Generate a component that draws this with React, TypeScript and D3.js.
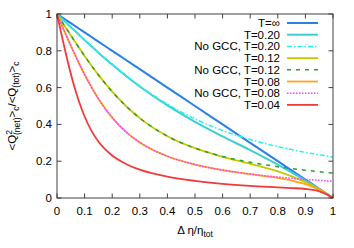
import * as d3 from 'd3';

// window fraction Δη/η_tot
const etaFrac = [0, 0.02, 0.04, 0.06, 0.08, 0.1, 0.125, 0.15, 0.2, 0.25, 0.3, 0.4, 0.5, 0.6, 0.7, 0.8, 0.85, 0.9, 0.95, 0.975, 1];

const tInf = [1, 0.98, 0.96, 0.94, 0.92, 0.9, 0.875, 0.85, 0.8, 0.75, 0.7, 0.6, 0.5, 0.4, 0.3, 0.2, 0.15, 0.1, 0.05, 0.025, 0];
const t020 = [1, 0.972, 0.943, 0.915, 0.887, 0.858, 0.825, 0.79, 0.725, 0.663, 0.606, 0.503, 0.414, 0.335, 0.26, 0.181, 0.139, 0.095, 0.049, 0.025, 0];
const t020NoGcc = [1, 0.972, 0.943, 0.915, 0.887, 0.859, 0.825, 0.791, 0.727, 0.666, 0.609, 0.51, 0.43, 0.367, 0.318, 0.279, 0.263, 0.248, 0.235, 0.229, 0.223];
const t012 = [1, 0.953, 0.907, 0.861, 0.816, 0.772, 0.719, 0.669, 0.578, 0.5, 0.434, 0.336, 0.271, 0.224, 0.186, 0.145, 0.118, 0.086, 0.047, 0.024, 0];
const t012NoGcc = [1, 0.953, 0.907, 0.861, 0.816, 0.772, 0.719, 0.669, 0.578, 0.5, 0.434, 0.336, 0.271, 0.226, 0.194, 0.17, 0.16, 0.151, 0.143, 0.139, 0.136];
const t008 = [1, 0.93, 0.861, 0.795, 0.731, 0.671, 0.602, 0.539, 0.437, 0.359, 0.302, 0.227, 0.182, 0.152, 0.1295, 0.109, 0.095, 0.075, 0.044, 0.023, 0];
const t008NoGcc = [1, 0.93, 0.861, 0.795, 0.731, 0.671, 0.602, 0.539, 0.437, 0.359, 0.302, 0.227, 0.182, 0.152, 0.13, 0.114, 0.107, 0.101, 0.096, 0.093, 0.091];
const t004 = [1, 0.864, 0.735, 0.62, 0.523, 0.443, 0.365, 0.307, 0.231, 0.185, 0.154, 0.116, 0.093, 0.077, 0.066, 0.058, 0.054, 0.049, 0.036, 0.021, 0];

const xTickValues = [0, 0.1, 0.2, 0.3, 0.4, 0.5, 0.6, 0.7, 0.8, 0.9, 1];
const xTickLabels = ['0', '0.1', '0.2', '0.3', '0.4', '0.5', '0.6', '0.7', '0.8', '0.9', '1'];
const yTickValues = [0, 0.2, 0.4, 0.6, 0.8, 1];
const yTickLabels = ['0', '0.2', '0.4', '0.6', '0.8', '1'];

const series = [
  { label: 'T=\u221e', values: tInf, color: '#2a7fe8', width: 2, dash: '' },
  { label: 'T=0.20', values: t020, color: '#3ccfd2', width: 2, dash: '' },
  { label: 'No GCC, T=0.20', values: t020NoGcc, color: '#22f2f2', width: 1.5, dash: '5,2,1.5,2' },
  { label: 'T=0.12', values: t012, color: '#c8c800', width: 1.8, dash: '' },
  { label: 'No GCC, T=0.12', values: t012NoGcc, color: '#2f9e2f', width: 1.5, dash: '4,5' },
  { label: 'T=0.08', values: t008, color: '#ffa31a', width: 1.8, dash: '' },
  { label: 'No GCC, T=0.08', values: t008NoGcc, color: '#ff3cff', width: 1.5, dash: '1.5,1.5' },
  { label: 'T=0.04', values: t004, color: '#ef3b3b', width: 1.8, dash: '' },
];

const W = 354;
const H = 248;
const m = { left: 57, right: 21, top: 14, bottom: 50 };
const font = 'Liberation Sans, Arial, Helvetica, sans-serif';

export default function App() {
  const x = d3.scaleLinear().domain([0, 1]).range([m.left, W - m.right]);
  const y = d3.scaleLinear().domain([0, 1]).range([H - m.bottom, m.top]);
  const line = d3
    .line<number>()
    .x((_d, i) => x(etaFrac[i]))
    .y((d) => y(d))
    .curve(d3.curveMonotoneX);

  const x0 = x(0), x1 = x(1), y0 = y(0), y1 = y(1);
  const tick = 4.5;
  const legX = 280;
  const legY = 23;
  const legStep = 11.7;

  return (
    <svg width={W} height={H} style={{ position: 'absolute', left: 0, top: 0, background: '#fff' }} fontFamily={font}>
      {series.map((s) => (
        <path key={s.label} d={line(s.values) ?? ''} fill="none" stroke={s.color} strokeWidth={s.width} strokeDasharray={s.dash || undefined} />
      ))}

      <rect x={x0} y={y1} width={x1 - x0} height={y0 - y1} fill="none" stroke="#404040" strokeWidth={1} />
      {xTickValues.map((v, i) => (
        <g key={'x' + i}>
          <line x1={x(v)} x2={x(v)} y1={y0} y2={y0 - tick} stroke="#404040" />
          <line x1={x(v)} x2={x(v)} y1={y1} y2={y1 + tick} stroke="#404040" />
          <text x={x(v)} y={y0 + 17} textAnchor="middle" fontSize={11.5}>{xTickLabels[i]}</text>
        </g>
      ))}
      {yTickValues.map((v, i) => (
        <g key={'y' + i}>
          <line x1={x0} x2={x0 + tick} y1={y(v)} y2={y(v)} stroke="#404040" />
          <line x1={x1} x2={x1 - tick} y1={y(v)} y2={y(v)} stroke="#404040" />
          <text x={x0 - 5} y={y(v) + 4} textAnchor="end" fontSize={11.5}>{yTickLabels[i]}</text>
        </g>
      ))}

      <text x={(x0 + x1) / 2} y={234} textAnchor="middle" fontSize={11.5}>
        {'\u0394 \u03b7/\u03b7'}
        <tspan dy={3} fontSize={8.5}>tot</tspan>
      </text>

      <text transform={`translate(16,${(y0 + y1) / 2}) rotate(-90)`} textAnchor="middle" fontSize={11.5}>
        {'<Q'}
        <tspan dy={-4.5} fontSize={8.5}>2</tspan>
        <tspan dx={-5} dy={8} fontSize={8.5}>(net)</tspan>
        <tspan dy={-3.5}>{'>'}</tspan>
        <tspan dy={3} fontSize={8.5}>c</tspan>
        <tspan dy={-3}>{'/<Q'}</tspan>
        <tspan dy={3} fontSize={8.5}>(tot)</tspan>
        <tspan dy={-3}>{'>'}</tspan>
        <tspan dy={3} fontSize={8.5}>c</tspan>
      </text>

      {series.map((s, i) => (
        <g key={'leg' + i}>
          <text x={legX} y={legY + i * legStep + 4} textAnchor="end" fontSize={11.5}>{s.label}</text>
          <line x1={287} x2={318} y1={legY + i * legStep} y2={legY + i * legStep} stroke={s.color} strokeWidth={s.width} strokeDasharray={s.dash || undefined} />
        </g>
      ))}
    </svg>
  );
}
